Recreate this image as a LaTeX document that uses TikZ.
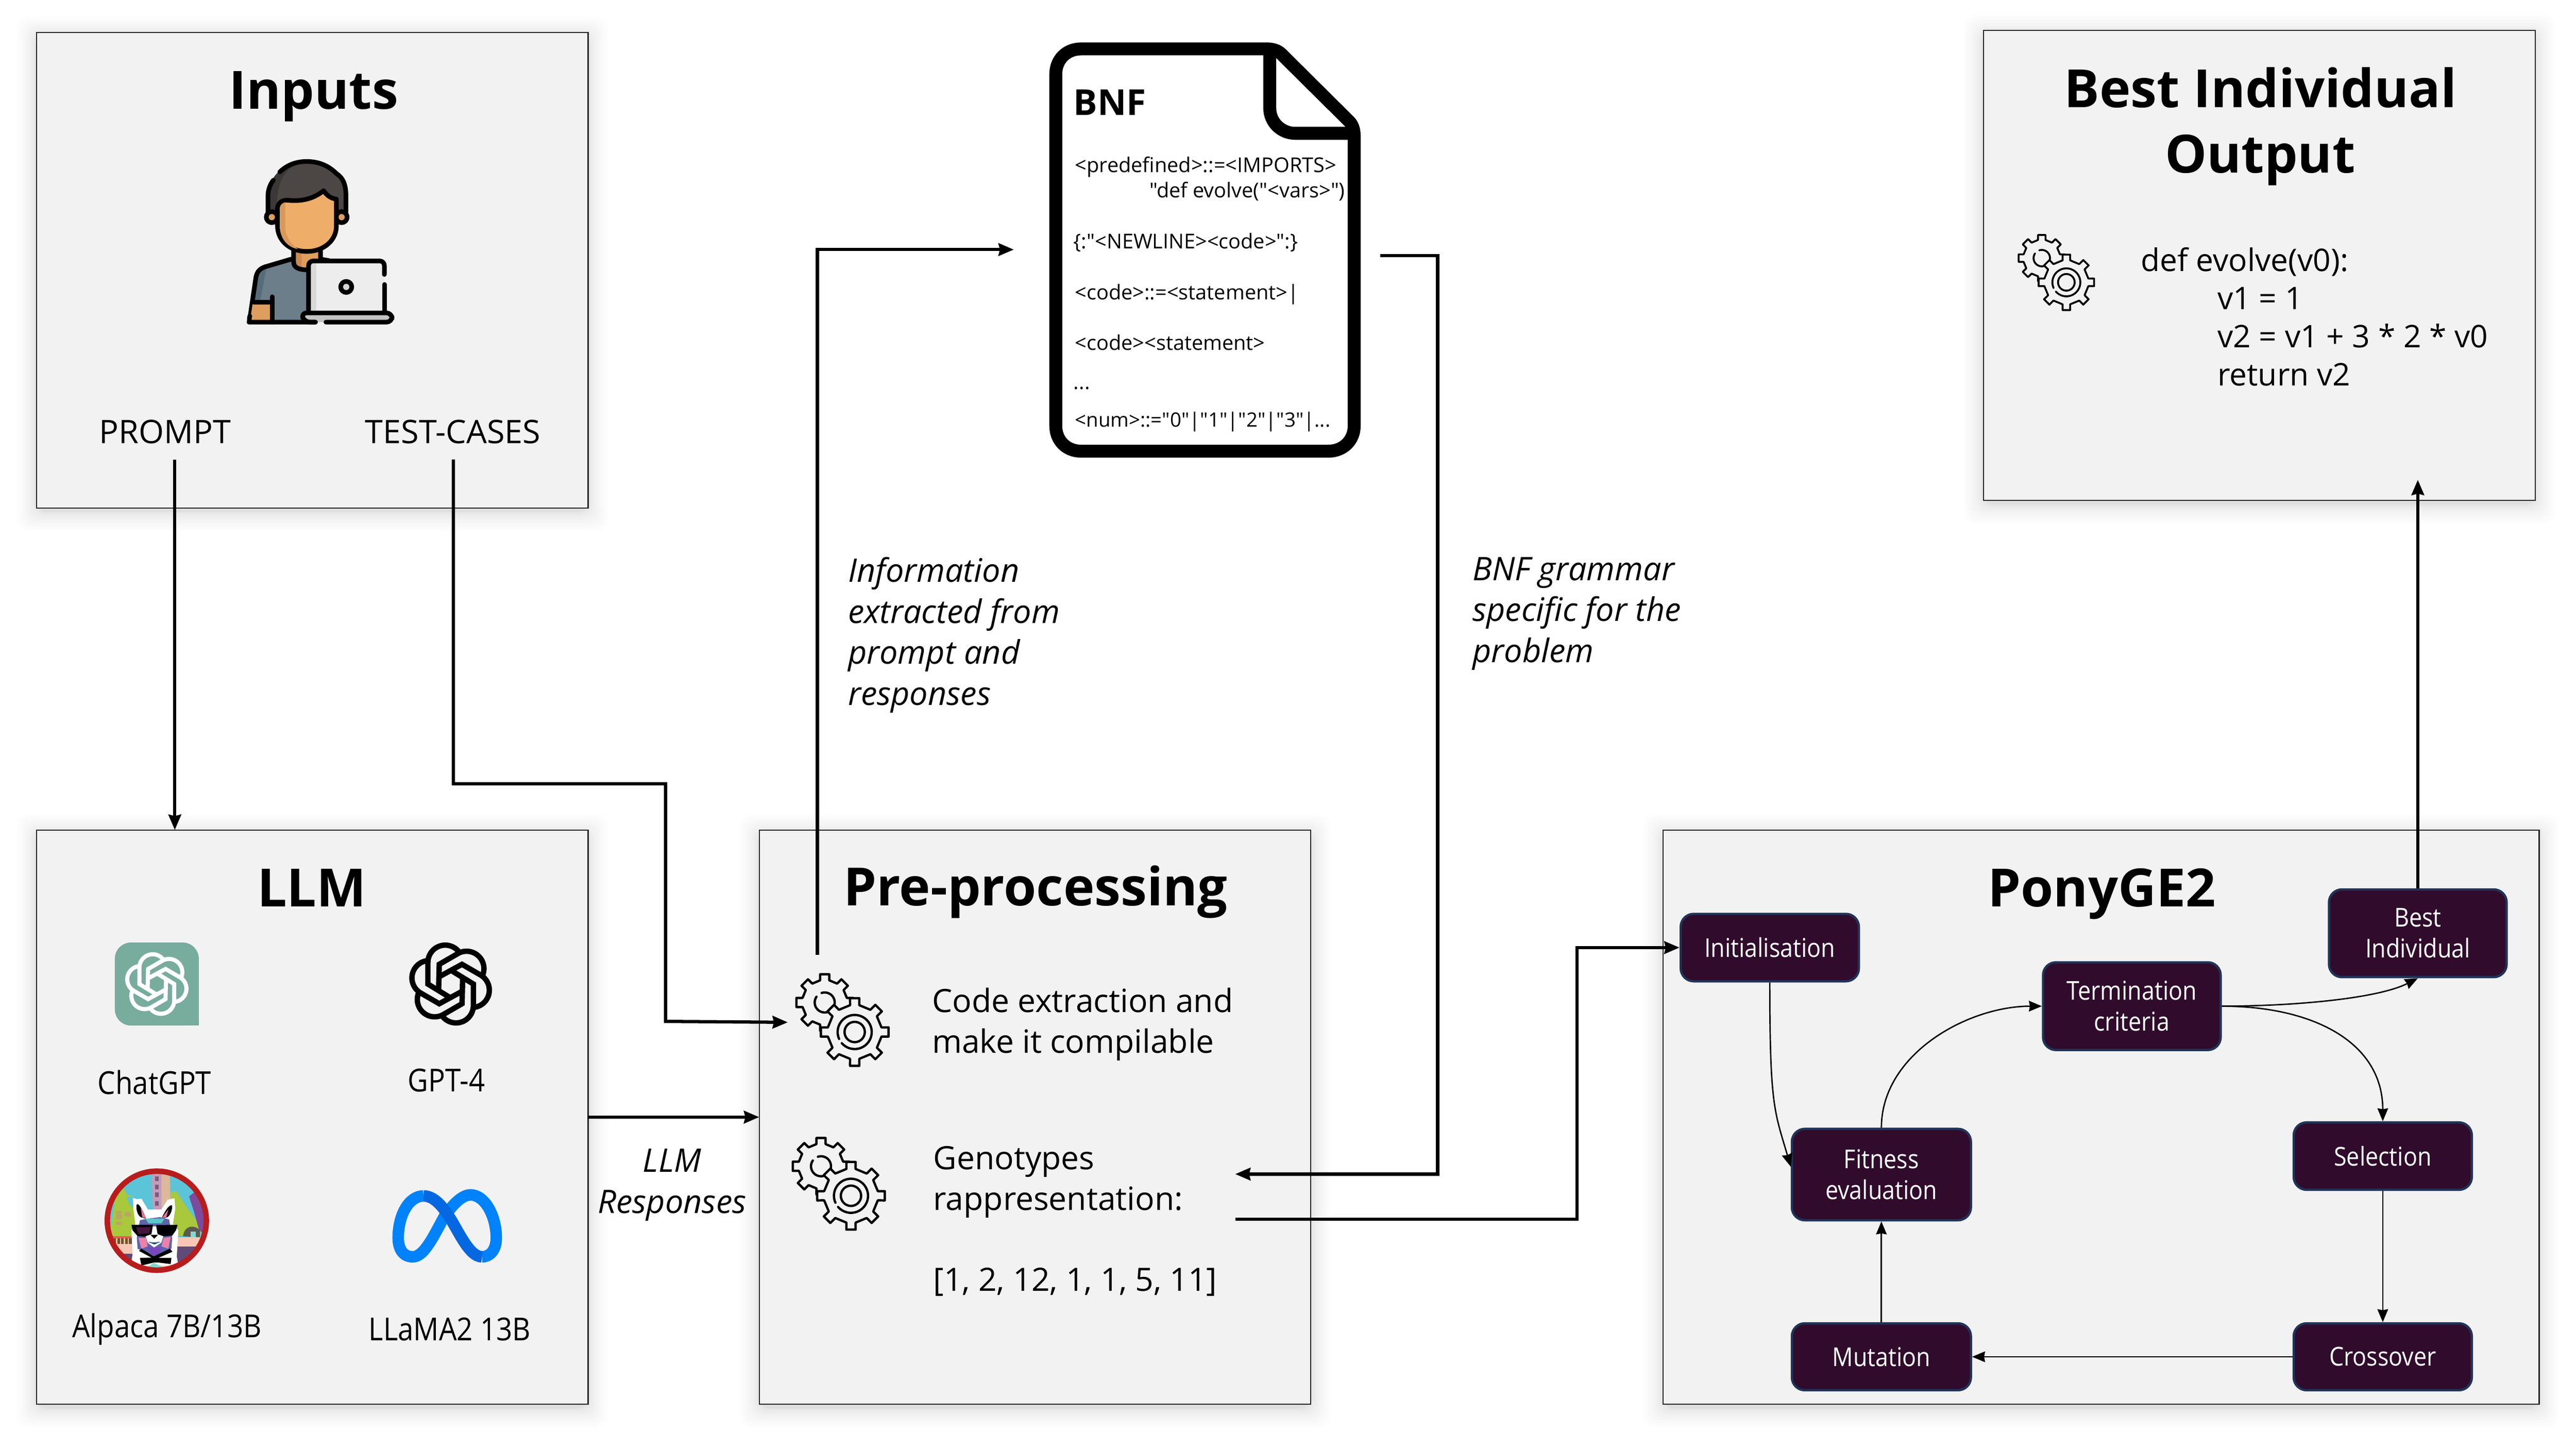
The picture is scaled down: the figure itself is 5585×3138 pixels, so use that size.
\documentclass[tikz,border=0pt]{standalone}
\usepackage{fontspec}
\setmainfont{Open Sans}
\newfontfamily\narrowfont{Open Sans}[FakeStretch=0.89]
\newfontfamily\grammarfont{Open Sans}
\usetikzlibrary{arrows.meta}

\definecolor{panelgray}{HTML}{F2F2F2}
\definecolor{boxfill}{HTML}{300B2C}
\definecolor{boxedge}{HTML}{1F3458}
\definecolor{chatgreen}{HTML}{78AC9D}
\definecolor{metalight}{HTML}{0082FB}
\definecolor{metadark}{HTML}{0668E1}

\tikzset{
    panelbox/.style={draw=black!85, fill=panelgray, line width=0.024cm, inner sep=0, outer sep=0},
    paneltitle/.style={font=\fontsize{32.5}{40}\selectfont\bfseries, anchor=base, inner sep=0},
    bodytext/.style={font=\fontsize{20}{25}\selectfont, anchor=base, inner sep=0},
    logotext/.style={font=\narrowfont\fontsize{19.5}{25}\selectfont, anchor=base, inner sep=0},
    blocktext/.style={font=\fontsize{19.8}{25}\selectfont, anchor=north west, align=left, inner sep=0},
    notetext/.style={font=\fontsize{20}{25.3}\selectfont\itshape, anchor=north west, align=left, inner sep=0},
    bnftext/.style={font=\grammarfont\fontsize{12.6}{14}\selectfont, anchor=base west, inner sep=0},
    flowbox/.style={draw=boxedge, fill=boxfill, rounded corners=0.28cm, line width=0.05cm, text=white, align=center, inner sep=0, font=\narrowfont\fontsize{16}{19}\selectfont},
    bigarrow/.style={line width=0.07cm, -{Stealth[length=0.33cm, width=0.27cm, inset=0.03cm]}},
    thinarrow/.style={line width=0.03cm, -{Stealth[length=0.28cm, width=0.23cm, inset=0.02cm]}},
    pictline/.style={line width=0.1cm, line join=round, line cap=round}
}

% panel: name, left, top, right, bottom
\newcommand{\panel}[5]{
    \foreach \g in {1,...,16} {
        \pgfmathsetmacro{\gr}{\g*\g/6}
        \fill[black, opacity=0.008, rounded corners=0.25cm] ({#2-\gr},{#3-\gr+8}) rectangle ({#4+\gr},{#5+\gr+8});
    }
    \node[panelbox, minimum width={(#4-#2)*0.01cm}, minimum height={(#5-#3)*0.01cm}] (#1) at ({(#2+#4)/2},{(#3+#5)/2}) {};
}

% gears: centre of the big wheel, scale
\newcommand{\gears}[3]{
    \begin{scope}[shift={(#1,#2)}, scale=#3, line join=round, line cap=round]
        \begin{scope}[shift={(-65,-64)}]
            \draw[line width=#3*0.05cm] ({-11.7}:49) \foreach \a in {0,45,...,315} {-- ({\a-11.7}:49) -- ({\a-9.2}:62) -- ({\a+9.2}:62) -- ({\a+11.7}:49)} -- cycle;
            \draw[line width=#3*0.05cm] plot[domain=252:575, samples=40] ({21.7*cos(\x)},{21.7*sin(\x)});
        \end{scope}
        \draw[line width=#3*0.05cm, fill=panelgray] ({-9.7}:59) \foreach \a in {0,45,...,315} {-- ({\a-9.7}:59) -- ({\a-7.8}:74) -- ({\a+7.8}:74) -- ({\a+9.7}:59)} -- cycle;
        \draw[line width=#3*0.05cm] plot[domain=156:499, samples=40] ({37*cos(\x)},{37*sin(\x)});
        \draw[line width=#3*0.05cm] plot[domain=0:360, samples=40] ({22*cos(\x)},{22*sin(\x)});
    \end{scope}
}

% knot logo: centre, scale, colour
\newcommand{\knotlogo}[4]{
    \begin{scope}[shift={(#1,#2)}, scale=#3]
        \foreach \r in {0,60,...,300} {
            \draw[rotate=\r, #4, line width=#3*0.35cm] plot[domain=322:180, samples=24] ({-35+113*cos(\x)},{-140+113*sin(\x)}) -- (-148,0) -- (-9,85);
        }
    \end{scope}
}

\begin{document}
\begin{tikzpicture}[x=0.01cm, y=-0.01cm]
\useasboundingbox (0,0) rectangle (5585,3138);

\panel{inputs}{79}{70}{1275}{1101}
\panel{llm}{79}{1799}{1275}{3044}
\panel{preproc}{1646}{1799}{2842}{3044}
\panel{ponyge}{3606}{1799}{5505}{3044}
\panel{output}{4300}{66}{5497}{1085}

\node[paneltitle] (inputstitle) at (680,236) {Inputs};
\node[paneltitle] (llmtitle) at (676,1965) {LLM};
\node[paneltitle] (preproctitle) at (2245,1963) {Pre-processing};
\node[paneltitle] (ponygetitle) at (4557,1965) {PonyGE2};
\node[paneltitle] (outputtitle) at (4901,233) {Best Individual};
\node[paneltitle] (outputtitlesub) at (4900,375) {Output};

% person
\begin{scope}[shift={(500,320)}, scale=0.3333]
\fill[fill={rgb,255:red,108;green,126;blue,137}] (125,1110) -- (165,840) .. controls (175,800) and (195,785) .. (225,775) -- (395,725) -- (420,790) -- (500,800) -- (500,1135) -- (150,1135) -- cycle;
\fill[fill={rgb,255:red,86;green,108;blue,122}] (165,840) .. controls (175,800) and (195,785) .. (235,775) -- (190,1005) -- (150,1005) -- cycle;
\draw[pictline, line width=0.1cm] (125,1110) -- (165,840) .. controls (175,800) and (195,785) .. (225,775) -- (395,725);
\fill[fill={rgb,255:red,222;green,158;blue,94}] (145,1005) -- (270,1005) -- (270,1135) -- (170,1135) .. controls (135,1135) and (125,1120) .. (130,1100) -- cycle;
\draw[pictline] (150,1005) -- (270,1005);
\draw[pictline] (270,970) -- (270,1135);
\fill[fill={rgb,255:red,222;green,158;blue,94}] (410,660) -- (590,660) -- (590,790) -- (490,795) .. controls (440,790) and (410,780) .. (410,745) -- cycle;
\fill[fill={rgb,255:red,205;green,138;blue,80}] (410,660) -- (462,680) -- (462,790) .. controls (430,785) and (410,770) .. (410,745) -- cycle;
\draw[pictline] (410,665) -- (410,745) .. controls (410,780) and (445,795) .. (500,795);
\draw[pictline] (585,665) -- (585,725) -- (640,735);
\fill[fill={rgb,255:red,76;green,71;blue,68}] (243,430) -- (243,310) .. controls (243,190) and (360,90) .. (495,90) .. controls (590,90) and (650,130) .. (690,170) .. controls (730,195) and (750,240) .. (750,310) -- (750,430) -- (690,430) -- (690,335) -- (300,400) -- cycle;
\fill[fill={rgb,255:red,60;green,56;blue,55}] (243,430) -- (243,310) .. controls (243,190) and (360,90) .. (440,105) .. controls (350,140) and (300,220) .. (300,400) -- cycle;
\draw[pictline] (243,420) -- (243,310) .. controls (243,280) and (255,240) .. (278,212);
\draw[pictline] (320,158) .. controls (370,110) and (430,90) .. (495,90) .. controls (590,90) and (650,130) .. (690,170) .. controls (730,195) and (750,240) .. (750,310) -- (750,420);
\foreach \ex in {268,722} {
    \filldraw[pictline, fill={rgb,255:red,222;green,158;blue,94}] (\ex,452) circle (36);
}
\filldraw[pictline, fill={rgb,255:red,238;green,174;blue,106}] (305,400) .. controls (305,360) and (335,340) .. (370,342) .. controls (450,350) and (530,340) .. (605,280) .. controls (625,310) and (650,330) .. (688,335) -- (688,510) .. controls (688,600) and (610,675) .. (495,675) .. controls (380,675) and (305,600) .. (305,510) -- cycle;
\fill[fill={rgb,255:red,216;green,152;blue,90}] (320,395) .. controls (320,375) and (335,360) .. (355,355) -- (355,510) .. controls (355,570) and (385,625) .. (440,660) .. controls (370,650) and (320,590) .. (320,510) -- cycle;
\fill[fill={rgb,255:red,237;green,237;blue,237}, rounded corners=0.08cm] (505,737) rectangle (1000,1080);
\fill[fill={rgb,255:red,217;green,217;blue,217}] (520,752) rectangle (558,1065);
\draw[pictline, line cap=round, rounded corners=0.1cm] (1000,825) -- (1000,737) -- (507,737) -- (507,1075);
\draw[pictline] (1000,890) -- (1000,1075);
\filldraw[pictline, fill={rgb,255:red,213;green,213;blue,213}] (752,906) circle (36);
\fill[fill={rgb,255:red,196;green,196;blue,196}, rounded corners=0.08cm] (460,1075) rectangle (1050,1135);
\draw[pictline, rounded corners=0.1cm] (552,1135) -- (150,1135) .. controls (125,1135) and (118,1120) .. (125,1095);
\draw[pictline, rounded corners=0.12cm] (552,1135) -- (480,1135) -- (458,1075) -- (1050,1075) -- (1050,1135) -- (620,1135);
\end{scope}

\node[bodytext] (prompt) at (358,961) {PROMPT};
\node[bodytext] (testcases) at (982,961) {TEST-CASES};
\coordinate (promptout) at (379,996);
\coordinate (testout) at (983,996);

% llm logos
\fill[chatgreen, rounded corners=0.35cm] (249,2043) -- (431,2043) -- (431,2223) -- (249,2223) -- cycle;
\fill[chatgreen] (380,2170) rectangle (431,2223);
\knotlogo{340}{2133}{0.255}{white}
\knotlogo{977}{2133}{0.3333}{black}
\node[logotext] (chatgpt) at (335,2372) {ChatGPT};
\node[logotext] (gptfour) at (968,2366) {GPT-4};
\node[logotext] (alpaca) at (362,2899) {Alpaca 7B/13B};
\node[logotext] (llama) at (975,2906) {LLaMA2 13B};

% alpaca
\begin{scope}[shift={(200,2510)}, scale=0.3333]
\begin{scope}
\clip (420,408) circle (305);
\fill[fill={rgb,255:red,91;green,196;blue,217}] (100,90) rectangle (740,730);
\fill[fill={rgb,255:red,200;green,154;blue,184}] (385,100) -- (450,100) -- (450,340) -- (395,340) -- cycle;
\fill[fill={rgb,255:red,221;green,184;blue,154}] (450,100) -- (505,100) -- (510,340) -- (450,340) -- cycle;
\foreach \wy in {135,190,240,295} {
    \fill[fill={rgb,255:red,120;green,90;blue,130}] (408,\wy-15) rectangle (432,\wy+15);
}
\fill[fill={rgb,255:red,169;green,200;blue,60}] (110,520) -- (150,260) -- (205,195) -- (225,240) -- (270,250) -- (222,255) -- (240,300) -- (290,350) -- (290,520) -- cycle;
\fill[fill={rgb,255:red,169;green,200;blue,60}] (510,225) -- (545,215) -- (620,330) -- (710,450) -- (700,500) -- (520,510) -- cycle;
\fill[fill={rgb,255:red,126;green,74;blue,158}] (630,250) -- (662,225) -- (725,300) -- (735,500) -- (695,470) -- (665,360) -- cycle;
\fill[fill={rgb,255:red,90;green,90;blue,80}] (590,510) .. controls (600,440) and (660,430) .. (700,470) -- (700,515) -- cycle;
\fill[fill={rgb,255:red,140;green,215;blue,205}] (640,480) rectangle (672,515);
\fill[fill={rgb,255:red,184;green,168;blue,96}] (155,345) rectangle (195,400);
\fill[fill={rgb,255:red,184;green,168;blue,96}] (210,350) rectangle (250,380);
\fill[fill={rgb,255:red,184;green,168;blue,96}] (155,415) rectangle (195,435);
\fill[fill={rgb,255:red,247;green,198;blue,180}] (100,515) rectangle (740,730);
\fill[fill={rgb,255:red,95;green,74;blue,120}] (540,575) rectangle (740,730);
\fill[fill={rgb,255:red,95;green,74;blue,120}] (200,622) rectangle (290,730);
\fill[fill={rgb,255:red,110;green,80;blue,60}] (140,515) rectangle (262,560);
\fill[fill={rgb,255:red,232;green,92;blue,72}] (135,510) rectangle (262,522);
\foreach \bx in {155,180,205,230} {
    \fill[fill={rgb,255:red,240;green,200;blue,130}] (\bx,524) rectangle ({\bx+8},560);
}
% head and fur
\fill[white] (265,260) -- (290,268) -- (320,265) -- (362,335) -- (450,335) -- (490,272) -- (535,262) -- (540,330) -- (525,430) -- (560,470) -- (550,640) -- (560,700) -- (250,700) -- (262,630) -- (255,470) -- (280,430) -- (268,330) -- cycle;
\fill[black] (288,305) .. controls (300,290) and (320,320) .. (350,395) -- (315,385) .. controls (295,370) and (285,340) .. (288,305) -- cycle;
\fill[black] (520,310) .. controls (505,300) and (480,330) .. (450,395) -- (490,385) .. controls (510,370) and (520,340) .. (520,310) -- cycle;
\fill[fill={rgb,255:red,240;green,110;blue,150}] (315,320) -- (350,392) -- (325,385) -- cycle;
\fill[fill={rgb,255:red,240;green,110;blue,150}] (495,335) -- (452,392) -- (482,385) -- cycle;
\fill[fill={rgb,255:red,94;green,100;blue,170}] (310,405) -- (360,395) -- (440,385) -- (500,400) -- (520,520) -- (515,590) -- (400,640) -- (295,590) -- (290,520) -- cycle;
\fill[fill={rgb,255:red,235;green,130;blue,170}] (300,520) -- (350,520) -- (360,575) -- (320,590) -- cycle;
\fill[fill={rgb,255:red,235;green,130;blue,170}] (510,515) -- (465,520) -- (450,575) -- (495,590) -- cycle;
\fill[fill={rgb,255:red,120;green,70;blue,190}] (360,580) -- (450,580) -- (430,630) -- (385,630) -- cycle;
\fill[fill={rgb,255:red,90;green,200;blue,200}] (345,395) -- (470,395) -- (450,425) -- (365,425) -- cycle;
\fill[white] (345,500) -- (390,445) -- (420,445) -- (465,500) -- (450,550) -- (402,582) -- (360,550) -- cycle;
\fill[black] (255,435) -- (395,435) -- (385,495) -- (340,512) -- (295,508) -- (262,470) -- cycle;
\fill[black] (415,437) -- (555,435) -- (545,470) -- (520,505) -- (465,510) -- (425,495) -- cycle;
\fill[fill={rgb,255:red,70;green,20;blue,60}] (285,450) -- (380,450) -- (370,490) -- (300,495) -- cycle;
\fill[black] (378,500) -- (428,500) -- (403,525) -- cycle;
\fill[fill={rgb,255:red,40;green,80;blue,130}] (360,545) -- (402,550) -- (445,545) -- (405,563) -- cycle;
\fill[black] (305,605) -- (320,590) -- (400,640) -- (505,590) -- (522,610) -- (430,650) -- (515,650) -- (510,690) -- (430,680) -- (400,680) -- (320,700) -- (310,650) -- (385,648) -- cycle;
\fill[fill={rgb,255:red,127;green,216;blue,204}] (345,720) -- (400,682) -- (480,720) -- cycle;
\end{scope}
\draw[line width=0.12cm, color={rgb,255:red,185;green,28;blue,28}] (420,408) circle (322);
\end{scope}

% meta
\begin{scope}[shift={(830,2550)}, scale=0.3333, line width=0.25cm]
\draw[metalight] (420,225) .. controls (340,365) and (275,523) .. (195,523) .. controls (130,523) and (100,470) .. (100,400) .. controls (100,250) and (170,127) .. (265,127);
\draw[metalight] (420,235) .. controls (470,165) and (525,120) .. (570,120) .. controls (665,120) and (738,260) .. (738,400) .. controls (738,475) and (700,523) .. (645,523);
\draw[metadark] (265,127) .. controls (330,127) and (385,190) .. (430,260) .. controls (490,350) and (560,523) .. (645,523);
\end{scope}

% bnf sheet
\filldraw[black, fill=white, line width=0.28cm, line join=round] (2344,106) -- (2745,106) .. controls (2757,106) and (2768,108) .. (2777,116) -- (2925,263) .. controls (2932,270) and (2936,280) .. (2936,295) -- (2936,923) .. controls (2936,955) and (2912,978) .. (2880,978) -- (2344,978) .. controls (2312,978) and (2289,955) .. (2289,923) -- (2289,161) .. controls (2289,129) and (2312,106) .. (2344,106) -- cycle;
\draw[black, line width=0.28cm] (2753,106) -- (2753,235) .. controls (2753,265) and (2778,289) .. (2808,289) -- (2936,289);
\node[paneltitle, font=\fontsize{22}{26}\selectfont\bfseries, anchor=base west] (bnftitle) at (2327,250) {BNF};
\node[bnftext] (bnfa) at (2330,374) {<predefined>::=<IMPORTS>};
\node[bnftext] (bnfb) at (2492,428) {"def evolve("<vars>")};
\node[bnftext] (bnfc) at (2327,539) {\{:"<NEWLINE><code>":\}};
\node[bnftext] (bnfd) at (2330,649) {<code>::=<statement>|};
\node[bnftext] (bnfe) at (2330,759) {<code><statement>};
\node[bnftext] (bnff) at (2327,844) {...};
\node[bnftext, font=\grammarfont\fontsize{12.2}{14}\selectfont] (bnfg) at (2330,925) {<num>::="0"|"1"|"2"|"3"|...};
\coordinate (bnfin) at (2198,541);
\coordinate (bnfout) at (2992,554);

% pre-processing
\gears{1853}{2237}{1}
\gears{1845}{2592}{1}
\coordinate (gearonein) at (1708,2216);
\coordinate (gearoneout) at (1772,2070);
\coordinate (genoin) at (2678,2545);
\coordinate (genoout) at (2678,2643);
\node[blocktext] (codetext) at (2020,2141) {Code extraction and\\make it compilable};
\node[blocktext] (genotext) at (2023,2484) {Genotypes\\rappresentation:\\\\{[1, 2, 12, 1, 1, 5, 11]}};

% output
\gears{4480}{612}{0.82}
\node[blocktext, font=\fontsize{19.2}{23.5}\selectfont] (outputcode) at (4641,536) {def evolve(v0):\\\hspace*{1.66cm}v1 = 1\\\hspace*{1.66cm}v2 = v1 + 3 * 2 * v0\\\hspace*{1.66cm}return v2};

% notes
\node[notetext] (notegrammar) at (3192,1207) {BNF grammar\\specific for the\\problem};
\node[notetext] (noteinfo) at (1838,1207) {Information\\extracted from\\prompt and\\responses};
\node[notetext, align=center, anchor=north] (noteresp) at (1457,2490) {LLM\\Responses};

% ponyge2 boxes
\node[flowbox, minimum width=3.86cm, minimum height=1.46cm] (init) at (3837,2054) {Initialisation};
\node[flowbox, minimum width=3.85cm, minimum height=1.90cm] (bestind) at (5242,2023) {Best\\Individual};
\node[flowbox, minimum width=3.85cm, minimum height=1.90cm] (term) at (4622,2181) {Termination\\criteria};
\node[flowbox, minimum width=3.88cm, minimum height=1.98cm] (fitness) at (4079,2546) {Fitness\\evaluation};
\node[flowbox, minimum width=3.86cm, minimum height=1.46cm] (sel) at (5166,2506) {Selection};
\node[flowbox, minimum width=3.88cm, minimum height=1.45cm] (mut) at (4079,2941) {Mutation};
\node[flowbox, minimum width=3.86cm, minimum height=1.45cm] (cross) at (5166,2941) {Crossover};
\coordinate (bestout) at (5242,1040);

% arrows
\draw[bigarrow] (promptout) -- (promptout |- llm.north);
\draw[bigarrow] (testout) -- (983,1699) -- (1443,1699) -- (1443,2214) -- (gearonein);
\draw[bigarrow] (llm.east) -- (preproc.west);
\draw[bigarrow] (gearoneout) -- (gearoneout |- bnfin) -- (bnfin);
\draw[bigarrow] (bnfout) -- (3117,554) -- (3117,2545) -- (genoin);
\draw[bigarrow] (genoout) -- (3419,2643) -- (3419,2054) -- (init.west);
\draw[bigarrow] (bestind.north) -- (bestout);

\draw[thinarrow] (init.south) .. controls +(0,270) and +(-35,-120) .. (fitness.175);
\draw[thinarrow] (fitness.north) .. controls +(0,-160) and +(-160,0) .. (term.west);
\draw[thinarrow] (term.east) .. controls +(150,0) and +(-90,45) .. (bestind.south);
\draw[thinarrow] (term.east) .. controls +(200,0) and +(0,-170) .. (sel.north);
\draw[thinarrow] (sel.south) -- (cross.north);
\draw[thinarrow] (cross.west) -- (mut.east);
\draw[thinarrow] (mut.north) -- (fitness.south);

\end{tikzpicture}
\end{document}
